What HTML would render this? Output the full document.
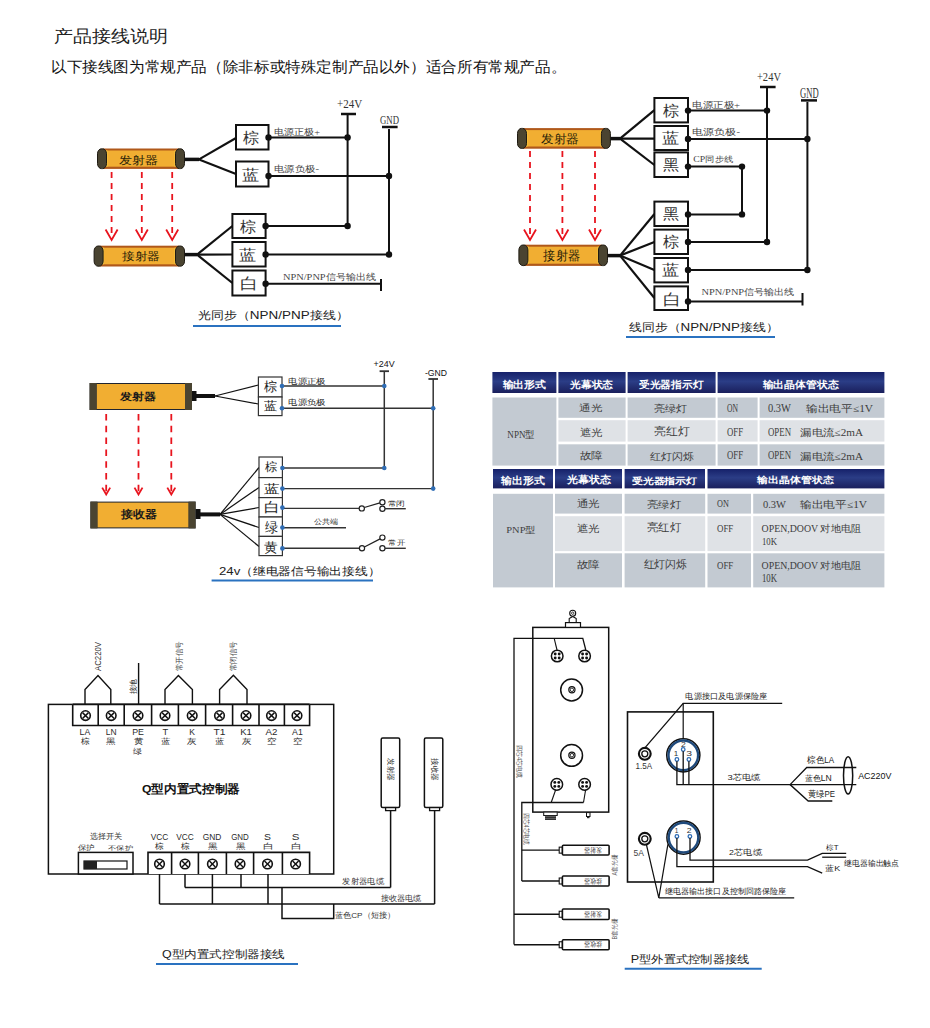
<!DOCTYPE html><html><head><meta charset="utf-8"><style>html,body{margin:0;padding:0;background:#fff}svg{display:block}</style></head><body><svg width="930" height="1028" viewBox="0 0 930 1028"><text id="t0" x="53.97" y="41.78" font-family="Liberation Sans" font-weight="normal" fill="#222" font-size="17.20" textLength="114.06" lengthAdjust="spacingAndGlyphs">产品接线说明</text>
<text id="t1" x="50.98" y="72.49" font-family="Liberation Sans" font-weight="normal" fill="#111" font-size="15.05" textLength="515.25" lengthAdjust="spacingAndGlyphs">以下接线图为常规产品（除非标或特殊定制产品以外）适合所有常规产品。</text>
<rect x="103" y="148.5" width="76" height="20.400000000000006" fill="#b0581a" rx="0"/>
<rect x="103" y="150.5" width="76" height="16.19999999999999" fill="#f1ae32" rx="0"/>
<rect x="105.5" y="150.5" width="2.0" height="16.19999999999999" fill="#f7c63c" rx="0"/>
<rect x="174.5" y="150.5" width="2.0" height="16.19999999999999" fill="#f7c63c" rx="0"/>
<rect x="97.5" y="148.8" width="9" height="19.799999999999983" rx="4" ry="5" fill="#4a4431" stroke="#1e1a12" stroke-width="1"/>
<rect x="175.5" y="148.8" width="9" height="19.799999999999983" rx="4" ry="5" fill="#4a4431" stroke="#1e1a12" stroke-width="1"/>
<text id="t2" x="118.97" y="164.00" font-family="Liberation Serif" font-weight="normal" fill="#2a1e08" font-size="10.84" textLength="39.08" lengthAdjust="spacingAndGlyphs">发射器</text>
<line x1="185" y1="159.4" x2="199" y2="159.4" stroke="#111" stroke-width="3.5" />
<line x1="199" y1="159.4" x2="236" y2="138" stroke="#111" stroke-width="2.2" />
<line x1="199" y1="159.4" x2="236" y2="174" stroke="#111" stroke-width="2.2" />
<rect x="236" y="125" width="32.5" height="24.5" fill="#fff" stroke="#111" stroke-width="2" rx="0"/>
<rect x="236" y="161.5" width="32.5" height="25.0" fill="#fff" stroke="#111" stroke-width="2" rx="0"/>
<text id="t3" x="243.00" y="143.49" font-family="Liberation Serif" font-weight="normal" fill="#333" font-size="15.05" textLength="16.07" lengthAdjust="spacingAndGlyphs">棕</text>
<text id="t4" x="241.85" y="179.99" font-family="Liberation Serif" font-weight="normal" fill="#333" font-size="15.05" textLength="17.31" lengthAdjust="spacingAndGlyphs">蓝</text>
<line x1="268.5" y1="137.5" x2="347.6" y2="137.5" stroke="#111" stroke-width="2" />
<line x1="268.5" y1="176" x2="389" y2="176" stroke="#111" stroke-width="2" />
<line x1="347.6" y1="114" x2="347.6" y2="226" stroke="#111" stroke-width="2" />
<line x1="341" y1="114" x2="356" y2="114" stroke="#111" stroke-width="2.5" />
<line x1="389" y1="129" x2="389" y2="254.5" stroke="#111" stroke-width="2" />
<line x1="382" y1="127" x2="397.6" y2="127" stroke="#111" stroke-width="2.5" />
<text id="t5" x="336.95" y="108.00" font-family="Liberation Serif" font-weight="normal" fill="#333" font-size="12.70" textLength="25.17" lengthAdjust="spacingAndGlyphs">+24V</text>
<text id="t6" x="380.00" y="124.00" font-family="Liberation Serif" font-weight="normal" fill="#333" font-size="12.70" textLength="19.00" lengthAdjust="spacingAndGlyphs">GND</text>
<text id="t7" x="273.95" y="134.51" font-family="Liberation Serif" font-weight="normal" fill="#444" font-size="9.27" textLength="46.10" lengthAdjust="spacingAndGlyphs">电源正极+</text>
<text id="t8" x="273.98" y="171.51" font-family="Liberation Serif" font-weight="normal" fill="#444" font-size="9.27" textLength="45.09" lengthAdjust="spacingAndGlyphs">电源负极-</text>
<line x1="111.6" y1="172" x2="111.6" y2="239" stroke="#e8141e" stroke-width="1.8" stroke-dasharray="6,5"/>
<polyline points="105.6,229.5 111.6,240 117.6,229.5" fill="none" stroke="#e8141e" stroke-width="1.8" stroke-linejoin="miter"/>
<line x1="141.8" y1="172" x2="141.8" y2="239" stroke="#e8141e" stroke-width="1.8" stroke-dasharray="6,5"/>
<polyline points="135.8,229.5 141.8,240 147.8,229.5" fill="none" stroke="#e8141e" stroke-width="1.8" stroke-linejoin="miter"/>
<line x1="172.2" y1="172" x2="172.2" y2="239" stroke="#e8141e" stroke-width="1.8" stroke-dasharray="6,5"/>
<polyline points="166.2,229.5 172.2,240 178.2,229.5" fill="none" stroke="#e8141e" stroke-width="1.8" stroke-linejoin="miter"/>
<rect x="99.6" y="245.7" width="79.4" height="20.80000000000001" fill="#b0581a" rx="0"/>
<rect x="99.6" y="247.7" width="79.4" height="16.600000000000023" fill="#f1ae32" rx="0"/>
<rect x="102.1" y="247.7" width="2.0" height="16.600000000000023" fill="#f7c63c" rx="0"/>
<rect x="174.5" y="247.7" width="2.0" height="16.600000000000023" fill="#f7c63c" rx="0"/>
<rect x="94.1" y="246" width="9" height="20.19999999999999" rx="4" ry="5" fill="#4a4431" stroke="#1e1a12" stroke-width="1"/>
<rect x="175.5" y="246" width="9" height="20.19999999999999" rx="4" ry="5" fill="#4a4431" stroke="#1e1a12" stroke-width="1"/>
<text id="t9" x="121.94" y="259.93" font-family="Liberation Serif" font-weight="normal" fill="#2a1e08" font-size="11.42" textLength="38.12" lengthAdjust="spacingAndGlyphs">接射器</text>
<line x1="185" y1="254.6" x2="197" y2="254.6" stroke="#111" stroke-width="3.5" />
<line x1="197" y1="254.6" x2="232.4" y2="226" stroke="#111" stroke-width="2.2" />
<line x1="197" y1="254.6" x2="232.4" y2="254.5" stroke="#111" stroke-width="2.2" />
<line x1="197" y1="254.6" x2="232.4" y2="283" stroke="#111" stroke-width="2.2" />
<rect x="232.4" y="214" width="33.20000000000002" height="24" fill="#fff" stroke="#111" stroke-width="2" rx="0"/>
<rect x="232.4" y="242" width="33.20000000000002" height="24.5" fill="#fff" stroke="#111" stroke-width="2" rx="0"/>
<rect x="232.4" y="270.5" width="33.20000000000002" height="25.0" fill="#fff" stroke="#111" stroke-width="2" rx="0"/>
<text id="t10" x="240.00" y="231.99" font-family="Liberation Serif" font-weight="normal" fill="#333" font-size="15.05" textLength="16.07" lengthAdjust="spacingAndGlyphs">棕</text>
<text id="t11" x="238.85" y="259.99" font-family="Liberation Serif" font-weight="normal" fill="#333" font-size="15.05" textLength="17.31" lengthAdjust="spacingAndGlyphs">蓝</text>
<text id="t12" x="239.71" y="289.46" font-family="Liberation Serif" font-weight="normal" fill="#333" font-size="16.21" textLength="18.09" lengthAdjust="spacingAndGlyphs">白</text>
<line x1="265.6" y1="226" x2="347.6" y2="226" stroke="#111" stroke-width="2" />
<line x1="265.6" y1="254.5" x2="389" y2="254.5" stroke="#111" stroke-width="2" />
<line x1="265.6" y1="283.75" x2="381" y2="283.75" stroke="#111" stroke-width="2" />
<line x1="381" y1="279" x2="381" y2="291" stroke="#111" stroke-width="2" />
<circle cx="268.5" cy="137.5" r="3.2" fill="#111"/>
<circle cx="268.5" cy="176" r="3.2" fill="#111"/>
<circle cx="347.6" cy="137.5" r="3.2" fill="#111"/>
<circle cx="389" cy="176" r="3.2" fill="#111"/>
<circle cx="265.6" cy="226" r="3.2" fill="#111"/>
<circle cx="265.6" cy="254.5" r="3.2" fill="#111"/>
<circle cx="265.6" cy="283.75" r="3.2" fill="#111"/>
<circle cx="347.6" cy="226" r="3.2" fill="#111"/>
<circle cx="389" cy="254.5" r="3.2" fill="#111"/>
<text id="t13" x="282.99" y="280.07" font-family="Liberation Serif" font-weight="normal" fill="#444" font-size="9.27" textLength="93.01" lengthAdjust="spacingAndGlyphs">NPN/PNP信号输出线</text>
<text id="t14" x="197.93" y="319.48" font-family="Liberation Sans" font-weight="normal" fill="#222" font-size="11.42" textLength="150.64" lengthAdjust="spacingAndGlyphs">光同步（NPN/PNP接线）</text>
<line x1="193" y1="326" x2="341" y2="326" stroke="#2a72c0" stroke-width="2" />
<rect x="523" y="128.1" width="81.89999999999998" height="20.600000000000023" fill="#b0581a" rx="0"/>
<rect x="523" y="130.1" width="81.89999999999998" height="16.400000000000006" fill="#f1ae32" rx="0"/>
<rect x="525.5" y="130.1" width="2.0" height="16.400000000000006" fill="#f7c63c" rx="0"/>
<rect x="600.4" y="130.1" width="2.0" height="16.400000000000006" fill="#f7c63c" rx="0"/>
<rect x="517.5" y="128.4" width="9" height="20.0" rx="4" ry="5" fill="#4a4431" stroke="#1e1a12" stroke-width="1"/>
<rect x="601.4" y="128.4" width="9" height="20.0" rx="4" ry="5" fill="#4a4431" stroke="#1e1a12" stroke-width="1"/>
<text id="t15" x="540.91" y="142.91" font-family="Liberation Serif" font-weight="normal" fill="#2a1e08" font-size="11.52" textLength="38.15" lengthAdjust="spacingAndGlyphs">发射器</text>
<line x1="610.4" y1="138.6" x2="620" y2="138.6" stroke="#111" stroke-width="3.5" />
<line x1="620" y1="138.6" x2="654.4" y2="110.2" stroke="#111" stroke-width="2.2" />
<line x1="620" y1="138.6" x2="654.4" y2="138.6" stroke="#111" stroke-width="2.2" />
<line x1="620" y1="138.6" x2="654.4" y2="165" stroke="#111" stroke-width="2.2" />
<rect x="654.4" y="98" width="33.60000000000002" height="24.400000000000006" fill="#fff" stroke="#111" stroke-width="2" rx="0"/>
<rect x="654.4" y="126" width="33.60000000000002" height="24" fill="#fff" stroke="#111" stroke-width="2" rx="0"/>
<rect x="654.4" y="152.4" width="33.60000000000002" height="24.599999999999994" fill="#fff" stroke="#111" stroke-width="2" rx="0"/>
<text id="t16" x="663.00" y="115.99" font-family="Liberation Serif" font-weight="normal" fill="#333" font-size="15.05" textLength="16.07" lengthAdjust="spacingAndGlyphs">棕</text>
<text id="t17" x="661.85" y="143.49" font-family="Liberation Serif" font-weight="normal" fill="#333" font-size="15.05" textLength="17.31" lengthAdjust="spacingAndGlyphs">蓝</text>
<text id="t18" x="663.00" y="170.49" font-family="Liberation Serif" font-weight="normal" fill="#333" font-size="15.05" textLength="16.07" lengthAdjust="spacingAndGlyphs">黑</text>
<line x1="688" y1="110.6" x2="767" y2="110.6" stroke="#111" stroke-width="2" />
<line x1="688" y1="139" x2="807.4" y2="139" stroke="#111" stroke-width="2" />
<line x1="688" y1="166.6" x2="742" y2="166.6" stroke="#111" stroke-width="2" />
<line x1="767" y1="87" x2="767" y2="242" stroke="#111" stroke-width="2" />
<line x1="760" y1="87" x2="775.6" y2="87" stroke="#111" stroke-width="2.5" />
<line x1="807.4" y1="102" x2="807.4" y2="270" stroke="#111" stroke-width="2" />
<line x1="801" y1="100.4" x2="817" y2="100.4" stroke="#111" stroke-width="2.5" />
<line x1="742" y1="166.6" x2="742" y2="214.4" stroke="#111" stroke-width="2" />
<text id="t19" x="756.95" y="81.34" font-family="Liberation Serif" font-weight="normal" fill="#333" font-size="12.70" textLength="24.05" lengthAdjust="spacingAndGlyphs">+24V</text>
<text id="t20" x="800.00" y="97.51" font-family="Liberation Serif" font-weight="normal" fill="#333" font-size="13.63" textLength="18.65" lengthAdjust="spacingAndGlyphs">GND</text>
<text id="t21" x="692.31" y="107.51" font-family="Liberation Serif" font-weight="normal" fill="#444" font-size="9.27" textLength="47.74" lengthAdjust="spacingAndGlyphs">电源正极+</text>
<text id="t22" x="692.32" y="135.14" font-family="Liberation Serif" font-weight="normal" fill="#444" font-size="8.60" textLength="47.69" lengthAdjust="spacingAndGlyphs">电源负极-</text>
<text id="t23" x="693.36" y="162.19" font-family="Liberation Serif" font-weight="normal" fill="#444" font-size="8.43" textLength="39.68" lengthAdjust="spacingAndGlyphs">CP同步线</text>
<line x1="530" y1="151" x2="530" y2="239" stroke="#e8141e" stroke-width="1.8" stroke-dasharray="6,5"/>
<polyline points="524,229.5 530,240 536,229.5" fill="none" stroke="#e8141e" stroke-width="1.8" stroke-linejoin="miter"/>
<line x1="562.4" y1="151" x2="562.4" y2="239" stroke="#e8141e" stroke-width="1.8" stroke-dasharray="6,5"/>
<polyline points="556.4,229.5 562.4,240 568.4,229.5" fill="none" stroke="#e8141e" stroke-width="1.8" stroke-linejoin="miter"/>
<line x1="595" y1="151" x2="595" y2="239" stroke="#e8141e" stroke-width="1.8" stroke-dasharray="6,5"/>
<polyline points="589,229.5 595,240 601,229.5" fill="none" stroke="#e8141e" stroke-width="1.8" stroke-linejoin="miter"/>
<rect x="524.4" y="244.7" width="77.60000000000002" height="21.200000000000045" fill="#b0581a" rx="0"/>
<rect x="524.4" y="246.7" width="77.60000000000002" height="17.000000000000057" fill="#f1ae32" rx="0"/>
<rect x="526.9" y="246.7" width="2.0" height="17.000000000000057" fill="#f7c63c" rx="0"/>
<rect x="597.5" y="246.7" width="2.0" height="17.000000000000057" fill="#f7c63c" rx="0"/>
<rect x="518.9" y="245" width="9" height="20.600000000000023" rx="4" ry="5" fill="#4a4431" stroke="#1e1a12" stroke-width="1"/>
<rect x="598.5" y="245" width="9" height="20.600000000000023" rx="4" ry="5" fill="#4a4431" stroke="#1e1a12" stroke-width="1"/>
<text id="t24" x="543.37" y="259.71" font-family="Liberation Serif" font-weight="normal" fill="#2a1e08" font-size="12.90" textLength="36.68" lengthAdjust="spacingAndGlyphs">接射器</text>
<line x1="608" y1="255.6" x2="620" y2="255.6" stroke="#111" stroke-width="3.5" />
<line x1="620" y1="255.6" x2="654.4" y2="214" stroke="#111" stroke-width="2.2" />
<line x1="620" y1="255.6" x2="654.4" y2="242" stroke="#111" stroke-width="2.2" />
<line x1="620" y1="255.6" x2="654.4" y2="270" stroke="#111" stroke-width="2.2" />
<line x1="620" y1="255.6" x2="654.4" y2="298" stroke="#111" stroke-width="2.2" />
<rect x="654.4" y="201.6" width="33.60000000000002" height="24.400000000000006" fill="#fff" stroke="#111" stroke-width="2" rx="0"/>
<rect x="654.4" y="229.6" width="33.60000000000002" height="24.400000000000006" fill="#fff" stroke="#111" stroke-width="2" rx="0"/>
<rect x="654.4" y="258" width="33.60000000000002" height="24.399999999999977" fill="#fff" stroke="#111" stroke-width="2" rx="0"/>
<rect x="654.4" y="286.4" width="33.60000000000002" height="23.600000000000023" fill="#fff" stroke="#111" stroke-width="2" rx="0"/>
<text id="t25" x="663.00" y="219.49" font-family="Liberation Serif" font-weight="normal" fill="#333" font-size="15.05" textLength="16.07" lengthAdjust="spacingAndGlyphs">黑</text>
<text id="t26" x="663.00" y="247.49" font-family="Liberation Serif" font-weight="normal" fill="#333" font-size="15.05" textLength="16.07" lengthAdjust="spacingAndGlyphs">棕</text>
<text id="t27" x="661.85" y="275.49" font-family="Liberation Serif" font-weight="normal" fill="#333" font-size="15.05" textLength="17.31" lengthAdjust="spacingAndGlyphs">蓝</text>
<text id="t28" x="662.71" y="304.92" font-family="Liberation Serif" font-weight="normal" fill="#333" font-size="16.21" textLength="18.09" lengthAdjust="spacingAndGlyphs">白</text>
<line x1="688" y1="214.4" x2="742" y2="214.4" stroke="#111" stroke-width="2" />
<line x1="688" y1="242" x2="767" y2="242" stroke="#111" stroke-width="2" />
<line x1="688" y1="270" x2="807.4" y2="270" stroke="#111" stroke-width="2" />
<line x1="688" y1="301.5" x2="802.5" y2="301.5" stroke="#111" stroke-width="2" />
<line x1="802.5" y1="293" x2="802.5" y2="305.5" stroke="#111" stroke-width="2" />
<circle cx="688" cy="110.6" r="3.2" fill="#111"/>
<circle cx="688" cy="139" r="3.2" fill="#111"/>
<circle cx="688" cy="166.6" r="3.2" fill="#111"/>
<circle cx="767" cy="110.6" r="3.2" fill="#111"/>
<circle cx="807.4" cy="139" r="3.2" fill="#111"/>
<circle cx="742" cy="166.6" r="3.2" fill="#111"/>
<circle cx="742" cy="214.4" r="3.2" fill="#111"/>
<circle cx="688" cy="214.4" r="3.2" fill="#111"/>
<circle cx="688" cy="242" r="3.2" fill="#111"/>
<circle cx="688" cy="270" r="3.2" fill="#111"/>
<circle cx="688" cy="301.5" r="3.2" fill="#111"/>
<circle cx="767" cy="242" r="3.2" fill="#111"/>
<circle cx="807.4" cy="270" r="3.2" fill="#111"/>
<text id="t29" x="701.49" y="295.07" font-family="Liberation Serif" font-weight="normal" fill="#444" font-size="9.27" textLength="93.01" lengthAdjust="spacingAndGlyphs">NPN/PNP信号输出线</text>
<text id="t30" x="629.00" y="330.93" font-family="Liberation Sans" font-weight="normal" fill="#222" font-size="11.42" textLength="149.50" lengthAdjust="spacingAndGlyphs">线同步（NPN/PNP接线）</text>
<line x1="626" y1="337" x2="775" y2="337" stroke="#2a72c0" stroke-width="2" />
<rect x="89.6" y="383" width="102.4" height="27" fill="#1f2430" rx="0"/>
<rect x="96.6" y="384" width="88.4" height="25" fill="#f1ae32" rx="0"/>
<rect x="89.6" y="383" width="7.0" height="27" fill="#4a4431" rx="0"/>
<rect x="185" y="383" width="7" height="27" fill="#4a4431" rx="0"/>
<text id="t31" x="120.00" y="399.52" font-family="Liberation Sans" font-weight="bold" fill="#1a1a1a" font-size="10.36" textLength="36.06" lengthAdjust="spacingAndGlyphs">发射器</text>
<rect x="192" y="391" width="4.5" height="10" fill="#111" rx="0"/>
<line x1="196" y1="396" x2="215" y2="396" stroke="#111" stroke-width="4" />
<line x1="215" y1="396" x2="258.4" y2="385" stroke="#111" stroke-width="1.2" />
<line x1="215" y1="396" x2="258.4" y2="404" stroke="#111" stroke-width="1.2" />
<rect x="258.4" y="377" width="23.600000000000023" height="20" fill="#fff" stroke="#333" stroke-width="1.2" rx="0"/>
<rect x="258.4" y="397" width="23.600000000000023" height="18.600000000000023" fill="#fff" stroke="#333" stroke-width="1.2" rx="0"/>
<text id="t32" x="264.00" y="390.71" font-family="Liberation Sans" font-weight="normal" fill="#222" font-size="12.90" textLength="13.09" lengthAdjust="spacingAndGlyphs">棕</text>
<text id="t33" x="264.00" y="409.82" font-family="Liberation Sans" font-weight="normal" fill="#222" font-size="11.83" textLength="13.09" lengthAdjust="spacingAndGlyphs">蓝</text>
<line x1="282" y1="386" x2="384.3" y2="386" stroke="#333" stroke-width="1.4" />
<line x1="282" y1="408.3" x2="433.2" y2="408.3" stroke="#333" stroke-width="1.4" />
<line x1="384.3" y1="371" x2="384.3" y2="468" stroke="#333" stroke-width="1.5" />
<line x1="379.6" y1="371.2" x2="389" y2="371.2" stroke="#333" stroke-width="1.8" />
<line x1="433.2" y1="379" x2="433.2" y2="488.6" stroke="#333" stroke-width="1.5" />
<line x1="428.4" y1="379" x2="438" y2="379" stroke="#333" stroke-width="1.8" />
<text id="t34" x="373.62" y="366.94" font-family="Liberation Sans" font-weight="normal" fill="#111" font-size="8.99" textLength="21.02" lengthAdjust="spacingAndGlyphs">+24V</text>
<text id="t35" x="424.95" y="375.61" font-family="Liberation Sans" font-weight="normal" fill="#111" font-size="8.60" textLength="22.05" lengthAdjust="spacingAndGlyphs">-GND</text>
<text id="t36" x="288.26" y="383.54" font-family="Liberation Sans" font-weight="normal" fill="#222" font-size="8.21" textLength="37.42" lengthAdjust="spacingAndGlyphs">电源正极</text>
<text id="t37" x="288.26" y="404.54" font-family="Liberation Sans" font-weight="normal" fill="#222" font-size="8.21" textLength="37.42" lengthAdjust="spacingAndGlyphs">电源负极</text>
<line x1="106.2" y1="414" x2="106.2" y2="493.4" stroke="#e8141e" stroke-width="1.8" stroke-dasharray="6.5,5.3"/>
<polyline points="102.2,487.59999999999997 106.2,494.4 110.2,487.59999999999997" fill="none" stroke="#e8141e" stroke-width="1.8" stroke-linejoin="miter"/>
<line x1="138.5" y1="414" x2="138.5" y2="493.4" stroke="#e8141e" stroke-width="1.8" stroke-dasharray="6.5,5.3"/>
<polyline points="134.5,487.59999999999997 138.5,494.4 142.5,487.59999999999997" fill="none" stroke="#e8141e" stroke-width="1.8" stroke-linejoin="miter"/>
<line x1="171.3" y1="414" x2="171.3" y2="493.4" stroke="#e8141e" stroke-width="1.8" stroke-dasharray="6.5,5.3"/>
<polyline points="167.3,487.59999999999997 171.3,494.4 175.3,487.59999999999997" fill="none" stroke="#e8141e" stroke-width="1.8" stroke-linejoin="miter"/>
<rect x="90.4" y="501.6" width="105.19999999999999" height="26.799999999999955" fill="#1f2430" rx="0"/>
<rect x="97.4" y="502.6" width="91.19999999999999" height="24.799999999999955" fill="#f1ae32" rx="0"/>
<rect x="90.4" y="501.6" width="7.0" height="26.799999999999955" fill="#4a4431" rx="0"/>
<rect x="188.6" y="501.6" width="7.0" height="26.799999999999955" fill="#4a4431" rx="0"/>
<text id="t38" x="121.00" y="518.00" font-family="Liberation Sans" font-weight="bold" fill="#1a1a1a" font-size="10.84" textLength="36.03" lengthAdjust="spacingAndGlyphs">接收器</text>
<rect x="195.6" y="509" width="4.900000000000006" height="10" fill="#111" rx="0"/>
<line x1="200" y1="514.4" x2="220" y2="514.4" stroke="#111" stroke-width="4" />
<line x1="220" y1="514.4" x2="259" y2="467.5" stroke="#111" stroke-width="1.2" />
<line x1="220" y1="514.4" x2="259" y2="487.5" stroke="#111" stroke-width="1.2" />
<line x1="220" y1="514.4" x2="259" y2="507.5" stroke="#111" stroke-width="1.2" />
<line x1="220" y1="514.4" x2="259" y2="527.5" stroke="#111" stroke-width="1.2" />
<line x1="220" y1="514.4" x2="259" y2="546.5" stroke="#111" stroke-width="1.2" />
<rect x="259" y="457" width="23.399999999999977" height="20.600000000000023" fill="#fff" stroke="#333" stroke-width="1.2" rx="0"/>
<rect x="259" y="477.6" width="23.399999999999977" height="20.0" fill="#fff" stroke="#333" stroke-width="1.2" rx="0"/>
<rect x="259" y="497.6" width="23.399999999999977" height="19.399999999999977" fill="#fff" stroke="#333" stroke-width="1.2" rx="0"/>
<rect x="259" y="517" width="23.399999999999977" height="19.399999999999977" fill="#fff" stroke="#333" stroke-width="1.2" rx="0"/>
<rect x="259" y="536.4" width="23.399999999999977" height="19.200000000000045" fill="#fff" stroke="#333" stroke-width="1.2" rx="0"/>
<text id="t39" x="264.92" y="470.92" font-family="Liberation Sans" font-weight="normal" fill="#222" font-size="12.46" textLength="12.24" lengthAdjust="spacingAndGlyphs">棕</text>
<text id="t40" x="264.20" y="493.10" font-family="Liberation Sans" font-weight="normal" fill="#222" font-size="12.46" textLength="15.52" lengthAdjust="spacingAndGlyphs">蓝</text>
<text id="t41" x="263.69" y="512.14" font-family="Liberation Sans" font-weight="normal" fill="#222" font-size="13.71" textLength="15.71" lengthAdjust="spacingAndGlyphs">白</text>
<text id="t42" x="265.00" y="531.90" font-family="Liberation Sans" font-weight="normal" fill="#222" font-size="14.13" textLength="13.09" lengthAdjust="spacingAndGlyphs">绿</text>
<text id="t43" x="263.70" y="551.77" font-family="Liberation Sans" font-weight="normal" fill="#222" font-size="12.95" textLength="13.67" lengthAdjust="spacingAndGlyphs">黄</text>
<line x1="282.4" y1="468" x2="384.3" y2="468" stroke="#333" stroke-width="1.4" />
<line x1="282.4" y1="488.6" x2="433.2" y2="488.6" stroke="#333" stroke-width="1.4" />
<line x1="282.4" y1="508.4" x2="359.2" y2="508.4" stroke="#333" stroke-width="1.4" />
<line x1="282.4" y1="527.8" x2="346" y2="527.8" stroke="#333" stroke-width="1.4" />
<line x1="282.4" y1="548.3" x2="359.4" y2="548.3" stroke="#333" stroke-width="1.4" />
<circle cx="361.8" cy="508.4" r="2.6" fill="#fff" stroke="#222" stroke-width="1.2"/>
<circle cx="382.4" cy="502.2" r="2.6" fill="#fff" stroke="#222" stroke-width="1.2"/>
<circle cx="382.4" cy="508.7" r="2.6" fill="#fff" stroke="#222" stroke-width="1.2"/>
<circle cx="362" cy="548.3" r="2.6" fill="#fff" stroke="#222" stroke-width="1.2"/>
<circle cx="382.4" cy="537.6" r="2.6" fill="#fff" stroke="#222" stroke-width="1.2"/>
<circle cx="382.4" cy="548.3" r="2.6" fill="#fff" stroke="#222" stroke-width="1.2"/>
<line x1="364.3" y1="507.5" x2="379.9" y2="502.9" stroke="#222" stroke-width="1.3" />
<line x1="364.4" y1="547" x2="380.1" y2="538.9" stroke="#222" stroke-width="1.3" />
<line x1="385" y1="508.7" x2="405.8" y2="508.7" stroke="#333" stroke-width="1.4" />
<line x1="385" y1="548.3" x2="405.8" y2="548.3" stroke="#333" stroke-width="1.4" />
<text id="t44" x="387.67" y="505.63" font-family="Liberation Sans" font-weight="normal" fill="#1e1e1e" font-size="7.16" textLength="17.41" lengthAdjust="spacingAndGlyphs">常闭</text>
<text id="t45" x="388.32" y="545.27" font-family="Liberation Sans" font-weight="normal" fill="#1e1e1e" font-size="7.26" textLength="16.63" lengthAdjust="spacingAndGlyphs">常开</text>
<text id="t46" x="313.85" y="524.34" font-family="Liberation Sans" font-weight="normal" fill="#1e1e1e" font-size="6.64" textLength="24.42" lengthAdjust="spacingAndGlyphs">公共端</text>
<circle cx="282" cy="386" r="2.3" fill="#2f6db5"/>
<circle cx="282" cy="408.3" r="2.3" fill="#2f6db5"/>
<circle cx="384.3" cy="386" r="2.3" fill="#2f6db5"/>
<circle cx="433.2" cy="408.3" r="2.3" fill="#2f6db5"/>
<circle cx="282.4" cy="468" r="2.3" fill="#2f6db5"/>
<circle cx="282.4" cy="488.6" r="2.3" fill="#2f6db5"/>
<circle cx="282.4" cy="507.6" r="2.3" fill="#2f6db5"/>
<circle cx="282.4" cy="527.6" r="2.3" fill="#2f6db5"/>
<circle cx="282.4" cy="548.4" r="2.3" fill="#2f6db5"/>
<circle cx="384.3" cy="468" r="2.3" fill="#2f6db5"/>
<circle cx="433.2" cy="488.6" r="2.3" fill="#2f6db5"/>
<text id="t47" x="218.94" y="575.48" font-family="Liberation Sans" font-weight="normal" fill="#222" font-size="11.42" textLength="161.51" lengthAdjust="spacingAndGlyphs">24v（继电器信号输出接线）</text>
<line x1="211.6" y1="580.6" x2="373" y2="580.6" stroke="#2a72c0" stroke-width="2" />
<defs><linearGradient id="hg" x1="0" y1="0" x2="0" y2="1"><stop offset="0" stop-color="#16216a"/><stop offset="0.45" stop-color="#2b3d86"/><stop offset="1" stop-color="#1a1f5c"/></linearGradient></defs>
<rect x="492.4" y="372" width="64.0" height="21" fill="url(#hg)" rx="0"/>
<rect x="558.4" y="372" width="67.20000000000005" height="21" fill="url(#hg)" rx="0"/>
<rect x="627.6" y="372" width="88.0" height="21" fill="url(#hg)" rx="0"/>
<rect x="717.6" y="372" width="166.79999999999995" height="21" fill="url(#hg)" rx="0"/>
<rect x="558.4" y="397.5" width="67.20000000000005" height="20.30000000000001" fill="#c3cad2" rx="0"/>
<rect x="627.6" y="397.5" width="88.0" height="20.30000000000001" fill="#c3cad2" rx="0"/>
<rect x="717.6" y="397.5" width="40.0" height="20.30000000000001" fill="#c3cad2" rx="0"/>
<rect x="759.6" y="397.5" width="124.79999999999995" height="20.30000000000001" fill="#c3cad2" rx="0"/>
<rect x="558.4" y="420.2" width="67.20000000000005" height="21.400000000000034" fill="#dfe2e6" rx="0"/>
<rect x="627.6" y="420.2" width="88.0" height="21.400000000000034" fill="#dfe2e6" rx="0"/>
<rect x="717.6" y="420.2" width="40.0" height="21.400000000000034" fill="#dfe2e6" rx="0"/>
<rect x="759.6" y="420.2" width="124.79999999999995" height="21.400000000000034" fill="#dfe2e6" rx="0"/>
<rect x="558.4" y="444.3" width="67.20000000000005" height="21.30000000000001" fill="#c3cad2" rx="0"/>
<rect x="627.6" y="444.3" width="88.0" height="21.30000000000001" fill="#c3cad2" rx="0"/>
<rect x="717.6" y="444.3" width="40.0" height="21.30000000000001" fill="#c3cad2" rx="0"/>
<rect x="759.6" y="444.3" width="124.79999999999995" height="21.30000000000001" fill="#c3cad2" rx="0"/>
<rect x="492.4" y="397.5" width="64.0" height="68.10000000000002" fill="#c3cad2" rx="0"/>
<text id="t48" x="502.58" y="387.75" font-family="Liberation Serif" font-weight="bold" fill="#fff" font-size="10.07" textLength="43.42" lengthAdjust="spacingAndGlyphs">输出形式</text>
<text id="t49" x="570.00" y="387.68" font-family="Liberation Serif" font-weight="bold" fill="#fff" font-size="9.78" textLength="43.00" lengthAdjust="spacingAndGlyphs">光幕状态</text>
<text id="t50" x="639.00" y="387.68" font-family="Liberation Serif" font-weight="bold" fill="#fff" font-size="9.78" textLength="64.41" lengthAdjust="spacingAndGlyphs">受光器指示灯</text>
<text id="t51" x="762.58" y="387.68" font-family="Liberation Serif" font-weight="bold" fill="#fff" font-size="9.78" textLength="76.03" lengthAdjust="spacingAndGlyphs">输出晶体管状态</text>
<text id="t52" x="507.36" y="438.03" font-family="Liberation Serif" font-weight="normal" fill="#3c3c3c" font-size="9.68" textLength="27.43" lengthAdjust="spacingAndGlyphs">NPN型</text>
<text id="t53" x="578.89" y="411.34" font-family="Liberation Serif" font-weight="normal" fill="#3c3c3c" font-size="8.89" textLength="23.26" lengthAdjust="spacingAndGlyphs">通光</text>
<text id="t54" x="579.90" y="436.03" font-family="Liberation Serif" font-weight="normal" fill="#3c3c3c" font-size="9.68" textLength="23.15" lengthAdjust="spacingAndGlyphs">遮光</text>
<text id="t55" x="579.90" y="459.03" font-family="Liberation Serif" font-weight="normal" fill="#3c3c3c" font-size="9.68" textLength="23.15" lengthAdjust="spacingAndGlyphs">故障</text>
<text id="t56" x="653.96" y="412.32" font-family="Liberation Serif" font-weight="normal" fill="#3c3c3c" font-size="9.77" textLength="33.23" lengthAdjust="spacingAndGlyphs">亮绿灯</text>
<text id="t57" x="653.89" y="435.44" font-family="Liberation Serif" font-weight="normal" fill="#3c3c3c" font-size="10.91" textLength="35.45" lengthAdjust="spacingAndGlyphs">亮红灯</text>
<text id="t58" x="650.00" y="459.62" font-family="Liberation Serif" font-weight="normal" fill="#3c3c3c" font-size="10.43" textLength="44.02" lengthAdjust="spacingAndGlyphs">红灯闪烁</text>
<text id="t59" x="727.00" y="412.00" font-family="Liberation Serif" font-weight="normal" fill="#3c3c3c" font-size="12.12" textLength="11.00" lengthAdjust="spacingAndGlyphs">ON</text>
<text id="t60" x="727.00" y="436.29" font-family="Liberation Serif" font-weight="normal" fill="#3c3c3c" font-size="11.95" textLength="16.00" lengthAdjust="spacingAndGlyphs">OFF</text>
<text id="t61" x="727.00" y="459.47" font-family="Liberation Serif" font-weight="normal" fill="#3c3c3c" font-size="11.76" textLength="16.00" lengthAdjust="spacingAndGlyphs">OFF</text>
<text id="t62" x="768.00" y="412.00" font-family="Liberation Serif" font-weight="normal" fill="#3c3c3c" font-size="12.12" textLength="23.00" lengthAdjust="spacingAndGlyphs">0.3W</text>
<text id="t63" x="805.97" y="412.03" font-family="Liberation Serif" font-weight="normal" fill="#3c3c3c" font-size="9.68" textLength="67.06" lengthAdjust="spacingAndGlyphs">输出电平≤1V</text>
<text id="t64" x="768.00" y="435.71" font-family="Liberation Serif" font-weight="normal" fill="#3c3c3c" font-size="11.95" textLength="23.00" lengthAdjust="spacingAndGlyphs">OPEN</text>
<text id="t65" x="799.97" y="436.03" font-family="Liberation Serif" font-weight="normal" fill="#3c3c3c" font-size="9.68" textLength="63.10" lengthAdjust="spacingAndGlyphs">漏电流≤2mA</text>
<text id="t66" x="768.00" y="459.31" font-family="Liberation Serif" font-weight="normal" fill="#3c3c3c" font-size="11.95" textLength="23.00" lengthAdjust="spacingAndGlyphs">OPEN</text>
<text id="t67" x="799.97" y="459.53" font-family="Liberation Serif" font-weight="normal" fill="#3c3c3c" font-size="9.68" textLength="63.10" lengthAdjust="spacingAndGlyphs">漏电流≤2mA</text>
<rect x="493" y="469" width="60" height="19.399999999999977" fill="url(#hg)" rx="0"/>
<rect x="555" y="469" width="67" height="19.399999999999977" fill="url(#hg)" rx="0"/>
<rect x="624.6" y="469" width="80.39999999999998" height="19.399999999999977" fill="url(#hg)" rx="0"/>
<rect x="707.5" y="469" width="176.89999999999998" height="19.399999999999977" fill="url(#hg)" rx="0"/>
<rect x="555" y="493.8" width="67" height="19.80000000000001" fill="#c3cad2" rx="0"/>
<rect x="624.6" y="493.8" width="80.60000000000002" height="19.80000000000001" fill="#c3cad2" rx="0"/>
<rect x="707.5" y="493.8" width="43.5" height="19.80000000000001" fill="#c3cad2" rx="0"/>
<rect x="753.2" y="493.8" width="131.19999999999993" height="19.80000000000001" fill="#c3cad2" rx="0"/>
<rect x="555" y="516.2" width="67" height="34.89999999999998" fill="#dfe2e6" rx="0"/>
<rect x="624.6" y="516.2" width="80.60000000000002" height="34.89999999999998" fill="#dfe2e6" rx="0"/>
<rect x="707.5" y="516.2" width="43.5" height="34.89999999999998" fill="#dfe2e6" rx="0"/>
<rect x="753.2" y="516.2" width="131.19999999999993" height="34.89999999999998" fill="#dfe2e6" rx="0"/>
<rect x="555" y="553.3" width="67" height="34.10000000000002" fill="#c3cad2" rx="0"/>
<rect x="624.6" y="553.3" width="80.60000000000002" height="34.10000000000002" fill="#c3cad2" rx="0"/>
<rect x="707.5" y="553.3" width="43.5" height="34.10000000000002" fill="#c3cad2" rx="0"/>
<rect x="753.2" y="553.3" width="131.19999999999993" height="34.10000000000002" fill="#c3cad2" rx="0"/>
<rect x="493" y="493.8" width="60" height="93.59999999999997" fill="#c3cad2" rx="0"/>
<text id="t68" x="501.00" y="483.86" font-family="Liberation Serif" font-weight="bold" fill="#fff" font-size="9.70" textLength="43.62" lengthAdjust="spacingAndGlyphs">输出形式</text>
<text id="t69" x="567.00" y="482.82" font-family="Liberation Serif" font-weight="bold" fill="#fff" font-size="9.92" textLength="44.00" lengthAdjust="spacingAndGlyphs">光幕状态</text>
<text id="t70" x="631.68" y="483.85" font-family="Liberation Serif" font-weight="bold" fill="#fff" font-size="9.49" textLength="65.58" lengthAdjust="spacingAndGlyphs">受光器指示灯</text>
<text id="t71" x="757.39" y="482.84" font-family="Liberation Serif" font-weight="bold" fill="#fff" font-size="9.39" textLength="76.01" lengthAdjust="spacingAndGlyphs">输出晶体管状态</text>
<text id="t72" x="506.32" y="533.46" font-family="Liberation Serif" font-weight="normal" fill="#3c3c3c" font-size="9.15" textLength="29.45" lengthAdjust="spacingAndGlyphs">PNP型</text>
<text id="t73" x="576.90" y="507.43" font-family="Liberation Serif" font-weight="normal" fill="#3c3c3c" font-size="9.68" textLength="23.15" lengthAdjust="spacingAndGlyphs">通光</text>
<text id="t74" x="576.90" y="532.03" font-family="Liberation Serif" font-weight="normal" fill="#3c3c3c" font-size="9.68" textLength="23.15" lengthAdjust="spacingAndGlyphs">遮光</text>
<text id="t75" x="576.90" y="568.03" font-family="Liberation Serif" font-weight="normal" fill="#3c3c3c" font-size="9.68" textLength="23.15" lengthAdjust="spacingAndGlyphs">故障</text>
<text id="t76" x="647.17" y="508.01" font-family="Liberation Serif" font-weight="normal" fill="#3c3c3c" font-size="10.43" textLength="33.95" lengthAdjust="spacingAndGlyphs">亮绿灯</text>
<text id="t77" x="647.16" y="531.29" font-family="Liberation Serif" font-weight="normal" fill="#3c3c3c" font-size="10.86" textLength="33.98" lengthAdjust="spacingAndGlyphs">亮红灯</text>
<text id="t78" x="643.59" y="568.41" font-family="Liberation Serif" font-weight="normal" fill="#3c3c3c" font-size="11.07" textLength="43.43" lengthAdjust="spacingAndGlyphs">红灯闪烁</text>
<text id="t79" x="717.00" y="507.48" font-family="Liberation Serif" font-weight="normal" fill="#3c3c3c" font-size="10.19" textLength="11.86" lengthAdjust="spacingAndGlyphs">ON</text>
<text id="t80" x="717.00" y="531.68" font-family="Liberation Serif" font-weight="normal" fill="#3c3c3c" font-size="10.74" textLength="16.26" lengthAdjust="spacingAndGlyphs">OFF</text>
<text id="t81" x="717.00" y="568.68" font-family="Liberation Serif" font-weight="normal" fill="#3c3c3c" font-size="10.74" textLength="16.26" lengthAdjust="spacingAndGlyphs">OFF</text>
<text id="t82" x="763.00" y="508.00" font-family="Liberation Serif" font-weight="normal" fill="#3c3c3c" font-size="10.86" textLength="23.00" lengthAdjust="spacingAndGlyphs">0.3W</text>
<text id="t83" x="799.97" y="508.03" font-family="Liberation Serif" font-weight="normal" fill="#3c3c3c" font-size="9.68" textLength="67.06" lengthAdjust="spacingAndGlyphs">输出电平≤1V</text>
<text id="t84" x="761.58" y="532.03" font-family="Liberation Serif" font-weight="normal" fill="#3c3c3c" font-size="9.68" textLength="99.44" lengthAdjust="spacingAndGlyphs">OPEN,DOOV 对地电阻</text>
<text id="t85" x="761.92" y="544.52" font-family="Liberation Serif" font-weight="normal" fill="#3c3c3c" font-size="10.74" textLength="15.08" lengthAdjust="spacingAndGlyphs">10K</text>
<text id="t86" x="761.58" y="569.03" font-family="Liberation Serif" font-weight="normal" fill="#3c3c3c" font-size="9.68" textLength="99.44" lengthAdjust="spacingAndGlyphs">OPEN,DOOV 对地电阻</text>
<text id="t87" x="761.92" y="582.00" font-family="Liberation Serif" font-weight="normal" fill="#3c3c3c" font-size="12.70" textLength="15.08" lengthAdjust="spacingAndGlyphs">10K</text>
<rect x="48.4" y="704.4" width="285.3" height="169.60000000000002" fill="none" stroke="#111" stroke-width="1.5" rx="0"/>
<rect x="72.7" y="704.4" width="236.90000000000003" height="21.100000000000023" fill="#fff" rx="0"/>
<polyline points="72.7,704.4 72.7,725.5 309.6,725.5 309.6,704.4" fill="none" stroke="#111" stroke-width="1.6" stroke-linejoin="miter"/>
<line x1="72.7" y1="704.4" x2="309.6" y2="704.4" stroke="#111" stroke-width="1.6" />
<line x1="98.2" y1="704.4" x2="98.2" y2="725.5" stroke="#111" stroke-width="1.6" />
<line x1="124.2" y1="704.4" x2="124.2" y2="725.5" stroke="#111" stroke-width="1.6" />
<line x1="151.6" y1="704.4" x2="151.6" y2="725.5" stroke="#111" stroke-width="1.6" />
<line x1="178.4" y1="704.4" x2="178.4" y2="725.5" stroke="#111" stroke-width="1.6" />
<line x1="205.6" y1="704.4" x2="205.6" y2="725.5" stroke="#111" stroke-width="1.6" />
<line x1="232.6" y1="704.4" x2="232.6" y2="725.5" stroke="#111" stroke-width="1.6" />
<line x1="259" y1="704.4" x2="259" y2="725.5" stroke="#111" stroke-width="1.6" />
<line x1="284.4" y1="704.4" x2="284.4" y2="725.5" stroke="#111" stroke-width="1.6" />
<circle cx="85.5" cy="715.6" r="4.8" fill="none" stroke="#111" stroke-width="1.6"/>
<line x1="82.524" y1="712.624" x2="88.476" y2="718.576" stroke="#111" stroke-width="1.4400000000000002" />
<line x1="82.524" y1="718.576" x2="88.476" y2="712.624" stroke="#111" stroke-width="1.4400000000000002" />
<circle cx="111.2" cy="715.6" r="4.8" fill="none" stroke="#111" stroke-width="1.6"/>
<line x1="108.224" y1="712.624" x2="114.176" y2="718.576" stroke="#111" stroke-width="1.4400000000000002" />
<line x1="108.224" y1="718.576" x2="114.176" y2="712.624" stroke="#111" stroke-width="1.4400000000000002" />
<circle cx="138" cy="715.6" r="4.8" fill="none" stroke="#111" stroke-width="1.6"/>
<line x1="135.024" y1="712.624" x2="140.976" y2="718.576" stroke="#111" stroke-width="1.4400000000000002" />
<line x1="135.024" y1="718.576" x2="140.976" y2="712.624" stroke="#111" stroke-width="1.4400000000000002" />
<circle cx="165" cy="715.6" r="4.8" fill="none" stroke="#111" stroke-width="1.6"/>
<line x1="162.024" y1="712.624" x2="167.976" y2="718.576" stroke="#111" stroke-width="1.4400000000000002" />
<line x1="162.024" y1="718.576" x2="167.976" y2="712.624" stroke="#111" stroke-width="1.4400000000000002" />
<circle cx="192.2" cy="715.6" r="4.8" fill="none" stroke="#111" stroke-width="1.6"/>
<line x1="189.224" y1="712.624" x2="195.176" y2="718.576" stroke="#111" stroke-width="1.4400000000000002" />
<line x1="189.224" y1="718.576" x2="195.176" y2="712.624" stroke="#111" stroke-width="1.4400000000000002" />
<circle cx="219.5" cy="715.6" r="4.8" fill="none" stroke="#111" stroke-width="1.6"/>
<line x1="216.524" y1="712.624" x2="222.476" y2="718.576" stroke="#111" stroke-width="1.4400000000000002" />
<line x1="216.524" y1="718.576" x2="222.476" y2="712.624" stroke="#111" stroke-width="1.4400000000000002" />
<circle cx="246" cy="715.6" r="4.8" fill="none" stroke="#111" stroke-width="1.6"/>
<line x1="243.024" y1="712.624" x2="248.976" y2="718.576" stroke="#111" stroke-width="1.4400000000000002" />
<line x1="243.024" y1="718.576" x2="248.976" y2="712.624" stroke="#111" stroke-width="1.4400000000000002" />
<circle cx="271.5" cy="715.6" r="4.8" fill="none" stroke="#111" stroke-width="1.6"/>
<line x1="268.524" y1="712.624" x2="274.476" y2="718.576" stroke="#111" stroke-width="1.4400000000000002" />
<line x1="268.524" y1="718.576" x2="274.476" y2="712.624" stroke="#111" stroke-width="1.4400000000000002" />
<circle cx="297" cy="715.6" r="4.8" fill="none" stroke="#111" stroke-width="1.6"/>
<line x1="294.024" y1="712.624" x2="299.976" y2="718.576" stroke="#111" stroke-width="1.4400000000000002" />
<line x1="294.024" y1="718.576" x2="299.976" y2="712.624" stroke="#111" stroke-width="1.4400000000000002" />
<polyline points="85,704.4 85,689.6 98,675.6 110.8,689.6 110.8,704.4" fill="none" stroke="#111" stroke-width="1.4" stroke-linejoin="miter"/>
<line x1="138.6" y1="663" x2="138.6" y2="704.4" stroke="#111" stroke-width="1.4" />
<polyline points="165,704.4 165,689.6 178.4,675.6 192.4,689.6 192.4,704.4" fill="none" stroke="#111" stroke-width="1.4" stroke-linejoin="miter"/>
<polyline points="219.6,704.4 219.6,689.6 233.4,675.2 247,689.6 247,704.4" fill="none" stroke="#111" stroke-width="1.4" stroke-linejoin="miter"/>
<text x="0" y="0" transform="translate(98.2,656.5) rotate(-90)" text-anchor="middle" dominant-baseline="central" font-family="Liberation Sans" font-size="8.5" font-weight="normal" fill="#333" textLength="29" lengthAdjust="spacingAndGlyphs">AC220V</text>
<text x="0" y="0" transform="translate(133,686.7) rotate(-90)" text-anchor="middle" dominant-baseline="central" font-family="Liberation Sans" font-size="7.5" font-weight="normal" fill="#333" textLength="15.4" lengthAdjust="spacingAndGlyphs">接地</text>
<text x="0" y="0" transform="translate(179.6,656) rotate(-90)" text-anchor="middle" dominant-baseline="central" font-family="Liberation Sans" font-size="7.6" font-weight="normal" fill="#444" textLength="30" lengthAdjust="spacingAndGlyphs">常开信号</text>
<text x="0" y="0" transform="translate(233.2,656) rotate(-90)" text-anchor="middle" dominant-baseline="central" font-family="Liberation Sans" font-size="7.6" font-weight="normal" fill="#444" textLength="30" lengthAdjust="spacingAndGlyphs">常闭信号</text>
<text id="t88" x="79.62" y="735.00" font-family="Liberation Sans" font-weight="normal" fill="#2a2a2a" font-size="8.33" textLength="10.69" lengthAdjust="spacingAndGlyphs">LA</text>
<text id="t89" x="81.23" y="744.25" font-family="Liberation Sans" font-weight="normal" fill="#2a2a2a" font-size="7.53" textLength="8.60" lengthAdjust="spacingAndGlyphs">棕</text>
<text id="t90" x="105.86" y="735.00" font-family="Liberation Sans" font-weight="normal" fill="#2a2a2a" font-size="8.33" textLength="10.80" lengthAdjust="spacingAndGlyphs">LN</text>
<text id="t91" x="106.44" y="743.68" font-family="Liberation Sans" font-weight="normal" fill="#2a2a2a" font-size="7.90" textLength="9.51" lengthAdjust="spacingAndGlyphs">黑</text>
<text id="t92" x="132.15" y="735.00" font-family="Liberation Sans" font-weight="normal" fill="#2a2a2a" font-size="8.33" textLength="11.76" lengthAdjust="spacingAndGlyphs">PE</text>
<text id="t93" x="133.60" y="744.25" font-family="Liberation Sans" font-weight="normal" fill="#2a2a2a" font-size="7.53" textLength="9.51" lengthAdjust="spacingAndGlyphs">黄</text>
<text id="t94" x="133.03" y="754.20" font-family="Liberation Sans" font-weight="normal" fill="#2a2a2a" font-size="8.01" textLength="9.02" lengthAdjust="spacingAndGlyphs">绿</text>
<text id="t95" x="162.45" y="735.00" font-family="Liberation Sans" font-weight="normal" fill="#2a2a2a" font-size="8.33" textLength="5.70" lengthAdjust="spacingAndGlyphs">T</text>
<text id="t96" x="160.64" y="744.25" font-family="Liberation Sans" font-weight="normal" fill="#2a2a2a" font-size="7.53" textLength="9.51" lengthAdjust="spacingAndGlyphs">蓝</text>
<text id="t97" x="189.28" y="735.00" font-family="Liberation Sans" font-weight="normal" fill="#2a2a2a" font-size="8.33" textLength="5.70" lengthAdjust="spacingAndGlyphs">K</text>
<text id="t98" x="187.44" y="744.25" font-family="Liberation Sans" font-weight="normal" fill="#2a2a2a" font-size="7.53" textLength="9.51" lengthAdjust="spacingAndGlyphs">灰</text>
<text id="t99" x="213.52" y="735.00" font-family="Liberation Sans" font-weight="normal" fill="#2a2a2a" font-size="8.33" textLength="12.00" lengthAdjust="spacingAndGlyphs">T1</text>
<text id="t100" x="214.91" y="744.25" font-family="Liberation Sans" font-weight="normal" fill="#2a2a2a" font-size="7.53" textLength="9.51" lengthAdjust="spacingAndGlyphs">蓝</text>
<text id="t101" x="240.15" y="735.00" font-family="Liberation Sans" font-weight="normal" fill="#2a2a2a" font-size="8.33" textLength="11.76" lengthAdjust="spacingAndGlyphs">K1</text>
<text id="t102" x="241.65" y="744.25" font-family="Liberation Sans" font-weight="normal" fill="#2a2a2a" font-size="7.53" textLength="9.51" lengthAdjust="spacingAndGlyphs">灰</text>
<text id="t103" x="265.60" y="735.00" font-family="Liberation Sans" font-weight="normal" fill="#2a2a2a" font-size="8.33" textLength="11.88" lengthAdjust="spacingAndGlyphs">A2</text>
<text id="t104" x="267.02" y="744.25" font-family="Liberation Sans" font-weight="normal" fill="#2a2a2a" font-size="7.53" textLength="9.51" lengthAdjust="spacingAndGlyphs">空</text>
<text id="t105" x="292.12" y="735.00" font-family="Liberation Sans" font-weight="normal" fill="#2a2a2a" font-size="8.33" textLength="10.69" lengthAdjust="spacingAndGlyphs">A1</text>
<text id="t106" x="292.65" y="744.25" font-family="Liberation Sans" font-weight="normal" fill="#2a2a2a" font-size="7.53" textLength="9.51" lengthAdjust="spacingAndGlyphs">空</text>
<text id="t107" x="141.99" y="792.61" font-family="Liberation Sans" font-weight="bold" fill="#111" font-size="11.58" textLength="98.01" lengthAdjust="spacingAndGlyphs">Q型内置式控制器</text>
<rect x="78.4" y="852.4" width="54.599999999999994" height="21.600000000000023" fill="#fff" stroke="#111" stroke-width="1.5" rx="0"/>
<rect x="84" y="861" width="43" height="8" fill="#fff" stroke="#111" stroke-width="1.2" rx="0"/>
<rect x="84" y="861" width="13" height="8" fill="#222" rx="0"/>
<text id="t108" x="89.96" y="838.54" font-family="Liberation Sans" font-weight="normal" fill="#333" font-size="8.21" textLength="32.69" lengthAdjust="spacingAndGlyphs">选择开关</text>
<text id="t109" x="77.93" y="849.97" font-family="Liberation Sans" font-weight="normal" fill="#333" font-size="6.91" textLength="17.07" lengthAdjust="spacingAndGlyphs">保护</text>
<text id="t110" x="107.96" y="849.93" font-family="Liberation Sans" font-weight="normal" fill="#333" font-size="6.30" textLength="25.04" lengthAdjust="spacingAndGlyphs">不保护</text>
<rect x="148" y="852.4" width="161.60000000000002" height="21.600000000000023" fill="#fff" rx="0"/>
<polyline points="148,874 148,852.4 309.6,852.4 309.6,874" fill="none" stroke="#111" stroke-width="1.6" stroke-linejoin="miter"/>
<line x1="171.6" y1="852.4" x2="171.6" y2="874" stroke="#111" stroke-width="1.6" />
<line x1="198.4" y1="852.4" x2="198.4" y2="874" stroke="#111" stroke-width="1.6" />
<line x1="226.4" y1="852.4" x2="226.4" y2="874" stroke="#111" stroke-width="1.6" />
<line x1="253.6" y1="852.4" x2="253.6" y2="874" stroke="#111" stroke-width="1.6" />
<line x1="282.4" y1="852.4" x2="282.4" y2="874" stroke="#111" stroke-width="1.6" />
<circle cx="159.5" cy="864" r="4.8" fill="none" stroke="#111" stroke-width="1.6"/>
<line x1="156.524" y1="861.024" x2="162.476" y2="866.976" stroke="#111" stroke-width="1.4400000000000002" />
<line x1="156.524" y1="866.976" x2="162.476" y2="861.024" stroke="#111" stroke-width="1.4400000000000002" />
<circle cx="185" cy="864" r="4.8" fill="none" stroke="#111" stroke-width="1.6"/>
<line x1="182.024" y1="861.024" x2="187.976" y2="866.976" stroke="#111" stroke-width="1.4400000000000002" />
<line x1="182.024" y1="866.976" x2="187.976" y2="861.024" stroke="#111" stroke-width="1.4400000000000002" />
<circle cx="212.4" cy="864" r="4.8" fill="none" stroke="#111" stroke-width="1.6"/>
<line x1="209.424" y1="861.024" x2="215.376" y2="866.976" stroke="#111" stroke-width="1.4400000000000002" />
<line x1="209.424" y1="866.976" x2="215.376" y2="861.024" stroke="#111" stroke-width="1.4400000000000002" />
<circle cx="240" cy="864" r="4.8" fill="none" stroke="#111" stroke-width="1.6"/>
<line x1="237.024" y1="861.024" x2="242.976" y2="866.976" stroke="#111" stroke-width="1.4400000000000002" />
<line x1="237.024" y1="866.976" x2="242.976" y2="861.024" stroke="#111" stroke-width="1.4400000000000002" />
<circle cx="267.5" cy="864" r="4.8" fill="none" stroke="#111" stroke-width="1.6"/>
<line x1="264.524" y1="861.024" x2="270.476" y2="866.976" stroke="#111" stroke-width="1.4400000000000002" />
<line x1="264.524" y1="866.976" x2="270.476" y2="861.024" stroke="#111" stroke-width="1.4400000000000002" />
<circle cx="295.6" cy="864" r="4.8" fill="none" stroke="#111" stroke-width="1.6"/>
<line x1="292.624" y1="861.024" x2="298.576" y2="866.976" stroke="#111" stroke-width="1.4400000000000002" />
<line x1="292.624" y1="866.976" x2="298.576" y2="861.024" stroke="#111" stroke-width="1.4400000000000002" />
<text id="t111" x="150.71" y="840.00" font-family="Liberation Sans" font-weight="normal" fill="#2a2a2a" font-size="8.33" textLength="17.56" lengthAdjust="spacingAndGlyphs">VCC</text>
<text id="t112" x="155.23" y="849.05" font-family="Liberation Sans" font-weight="normal" fill="#2a2a2a" font-size="7.53" textLength="8.60" lengthAdjust="spacingAndGlyphs">棕</text>
<text id="t113" x="176.24" y="840.00" font-family="Liberation Sans" font-weight="normal" fill="#2a2a2a" font-size="8.33" textLength="17.56" lengthAdjust="spacingAndGlyphs">VCC</text>
<text id="t114" x="180.73" y="849.05" font-family="Liberation Sans" font-weight="normal" fill="#2a2a2a" font-size="7.53" textLength="8.60" lengthAdjust="spacingAndGlyphs">棕</text>
<text id="t115" x="202.76" y="840.00" font-family="Liberation Sans" font-weight="normal" fill="#2a2a2a" font-size="8.33" textLength="18.65" lengthAdjust="spacingAndGlyphs">GND</text>
<text id="t116" x="208.04" y="849.47" font-family="Liberation Sans" font-weight="normal" fill="#2a2a2a" font-size="7.90" textLength="9.51" lengthAdjust="spacingAndGlyphs">黑</text>
<text id="t117" x="231.16" y="840.00" font-family="Liberation Sans" font-weight="normal" fill="#2a2a2a" font-size="8.33" textLength="17.68" lengthAdjust="spacingAndGlyphs">GND</text>
<text id="t118" x="235.65" y="849.47" font-family="Liberation Sans" font-weight="normal" fill="#2a2a2a" font-size="7.90" textLength="9.51" lengthAdjust="spacingAndGlyphs">黑</text>
<text id="t119" x="264.04" y="840.00" font-family="Liberation Sans" font-weight="normal" fill="#2a2a2a" font-size="8.33" textLength="6.94" lengthAdjust="spacingAndGlyphs">S</text>
<text id="t120" x="262.79" y="849.11" font-family="Liberation Sans" font-weight="normal" fill="#2a2a2a" font-size="8.20" textLength="10.86" lengthAdjust="spacingAndGlyphs">白</text>
<text id="t121" x="291.68" y="840.00" font-family="Liberation Sans" font-weight="normal" fill="#2a2a2a" font-size="8.33" textLength="7.71" lengthAdjust="spacingAndGlyphs">S</text>
<text id="t122" x="290.79" y="849.11" font-family="Liberation Sans" font-weight="normal" fill="#2a2a2a" font-size="8.20" textLength="10.86" lengthAdjust="spacingAndGlyphs">白</text>
<rect x="381.2" y="738" width="18.5" height="69.60000000000002" fill="#fff" stroke="#111" stroke-width="1.5" rx="1.5"/>
<rect x="385.6" y="807.6" width="10.0" height="3.0" fill="#fff" stroke="#111" stroke-width="1.3" rx="0"/>
<text x="0" y="0" transform="translate(390.40000000000003,769.5) rotate(90)" text-anchor="middle" dominant-baseline="central" font-family="Liberation Sans" font-size="8" font-weight="normal" fill="#333" textLength="23" lengthAdjust="spacingAndGlyphs">发射器</text>
<rect x="424.4" y="738" width="18.400000000000034" height="69.60000000000002" fill="#fff" stroke="#111" stroke-width="1.5" rx="1.5"/>
<rect x="429.6" y="807.6" width="10.0" height="3.0" fill="#fff" stroke="#111" stroke-width="1.3" rx="0"/>
<text x="0" y="0" transform="translate(434.40000000000003,769.5) rotate(90)" text-anchor="middle" dominant-baseline="central" font-family="Liberation Sans" font-size="8" font-weight="normal" fill="#333" textLength="23" lengthAdjust="spacingAndGlyphs">接收器</text>
<line x1="390.6" y1="810.6" x2="390.6" y2="887.5" stroke="#111" stroke-width="1.5" />
<line x1="434.6" y1="810.6" x2="434.6" y2="904" stroke="#111" stroke-width="1.5" />
<line x1="185" y1="887.5" x2="390.6" y2="887.5" stroke="#111" stroke-width="1.5" />
<line x1="159.5" y1="904" x2="434.6" y2="904" stroke="#111" stroke-width="1.5" />
<line x1="159.5" y1="874" x2="159.5" y2="904" stroke="#111" stroke-width="1.5" />
<line x1="185" y1="874" x2="185" y2="887.5" stroke="#111" stroke-width="1.5" />
<line x1="212.4" y1="874" x2="212.4" y2="904" stroke="#111" stroke-width="1.5" />
<line x1="241" y1="874" x2="241" y2="887.5" stroke="#111" stroke-width="1.5" />
<line x1="268" y1="874" x2="268" y2="904" stroke="#111" stroke-width="1.5" />
<polyline points="282,887.5 282,918.4 333.7,918.4 333.7,904" fill="none" stroke="#111" stroke-width="1.5" stroke-linejoin="miter"/>
<text id="t123" x="342.43" y="884.25" font-family="Liberation Sans" font-weight="normal" fill="#333" font-size="7.53" textLength="41.69" lengthAdjust="spacingAndGlyphs">发射器电缆</text>
<text id="t124" x="380.93" y="900.50" font-family="Liberation Sans" font-weight="normal" fill="#333" font-size="7.88" textLength="40.72" lengthAdjust="spacingAndGlyphs">接收器电缆</text>
<text id="t125" x="334.56" y="917.80" font-family="Liberation Sans" font-weight="normal" fill="#333" font-size="7.88" textLength="61.22" lengthAdjust="spacingAndGlyphs">蓝色CP（短接）</text>
<text id="t126" x="161.98" y="958.00" font-family="Liberation Sans" font-weight="normal" fill="#222" font-size="10.84" textLength="123.03" lengthAdjust="spacingAndGlyphs">Q型内置式控制器接线</text>
<line x1="156" y1="964" x2="298" y2="964" stroke="#2a72c0" stroke-width="2" />
<rect x="532.8" y="627.4" width="75.90000000000009" height="184.70000000000005" fill="none" stroke="#111" stroke-width="1.5" rx="0"/>
<rect x="565.5" y="622.6" width="15.0" height="4.7999999999999545" fill="#fff" stroke="#111" stroke-width="1.2" rx="0"/>
<polyline points="569.2,622.6 569.2,618.5 572.7,616.5 576.2,618.5 576.2,622.6" fill="none" stroke="#111" stroke-width="1.1" stroke-linejoin="miter"/>
<circle cx="572.7" cy="613.2" r="3.0" fill="#fff" stroke="#111" stroke-width="1.1"/>
<circle cx="572.7" cy="613.2" r="1.2" fill="none" stroke="#111" stroke-width="0.8"/>
<polyline points="514,944.6 514,638.4 582.8,638.4 585.8,650" fill="none" stroke="#111" stroke-width="1.3" stroke-linejoin="miter"/>
<line x1="554.2" y1="638.4" x2="557" y2="650" stroke="#111" stroke-width="1.1" />
<circle cx="557.2" cy="656" r="5.8" fill="#fff" stroke="#111" stroke-width="1.5"/>
<circle cx="555.2" cy="654.0" r="1.45" fill="#111"/>
<circle cx="555.2" cy="658.0" r="1.45" fill="#111"/>
<circle cx="559.2" cy="654.0" r="1.45" fill="#111"/>
<circle cx="559.2" cy="658.0" r="1.45" fill="#111"/>
<circle cx="584.6" cy="656" r="5.8" fill="#fff" stroke="#111" stroke-width="1.5"/>
<circle cx="582.6" cy="654.0" r="1.45" fill="#111"/>
<circle cx="582.6" cy="658.0" r="1.45" fill="#111"/>
<circle cx="586.6" cy="654.0" r="1.45" fill="#111"/>
<circle cx="586.6" cy="658.0" r="1.45" fill="#111"/>
<circle cx="556.8" cy="784.4" r="5.8" fill="#fff" stroke="#111" stroke-width="1.5"/>
<circle cx="554.8" cy="782.4" r="1.45" fill="#111"/>
<circle cx="554.8" cy="786.4" r="1.45" fill="#111"/>
<circle cx="558.8" cy="782.4" r="1.45" fill="#111"/>
<circle cx="558.8" cy="786.4" r="1.45" fill="#111"/>
<circle cx="584.6" cy="784.4" r="5.8" fill="#fff" stroke="#111" stroke-width="1.5"/>
<circle cx="582.6" cy="782.4" r="1.45" fill="#111"/>
<circle cx="582.6" cy="786.4" r="1.45" fill="#111"/>
<circle cx="586.6" cy="782.4" r="1.45" fill="#111"/>
<circle cx="586.6" cy="786.4" r="1.45" fill="#111"/>
<circle cx="571.6" cy="690" r="10.9" fill="none" stroke="#111" stroke-width="1.5"/>
<circle cx="571.9" cy="689.8" r="3.1" fill="none" stroke="#111" stroke-width="1.2"/>
<circle cx="571.9" cy="689.8" r="1.75" fill="none" stroke="#111" stroke-width="0.9"/>
<circle cx="571.6" cy="755.4" r="10.9" fill="none" stroke="#111" stroke-width="1.5"/>
<circle cx="571.9" cy="755.1999999999999" r="3.1" fill="none" stroke="#111" stroke-width="1.2"/>
<circle cx="571.9" cy="755.1999999999999" r="1.75" fill="none" stroke="#111" stroke-width="0.9"/>
<line x1="555.6" y1="790" x2="551.2" y2="802.5" stroke="#111" stroke-width="1.1" />
<line x1="585.6" y1="790" x2="583.5" y2="802.5" stroke="#111" stroke-width="1.1" />
<polyline points="583.5,802.5 521.8,802.5 521.8,881" fill="none" stroke="#111" stroke-width="1.3" stroke-linejoin="miter"/>
<rect x="543.7" y="812.1" width="13.5" height="3.3999999999999773" fill="#fff" rx="0"/>
<rect x="543.7" y="812.1" width="13.5" height="3.3999999999999773" fill="#fff" stroke="#111" stroke-width="1" rx="0"/>
<rect x="545" y="815.5" width="11" height="4.5" fill="#333" rx="0"/>
<line x1="545" y1="816.5" x2="556" y2="816.5" stroke="#888" stroke-width="0.5" />
<line x1="545" y1="818.5" x2="556" y2="818.5" stroke="#888" stroke-width="0.5" />
<rect x="586.5" y="812.6" width="3.5" height="3.8999999999999773" fill="#fff" stroke="#111" stroke-width="1" rx="0"/>
<rect x="587" y="816.5" width="2.5" height="1.7000000000000455" fill="#222" rx="0"/>
<line x1="521.8" y1="850.15" x2="559.5" y2="850.15" stroke="#111" stroke-width="1.3" />
<rect x="559.2" y="847.15" width="3.199999999999932" height="6.0" fill="#fff" stroke="#111" stroke-width="1.1" rx="0"/>
<rect x="562.4" y="845.3" width="46.700000000000045" height="9.700000000000045" fill="#fff" stroke="#111" stroke-width="1.6" rx="1"/>
<text x="0" y="0" transform="translate(593,850.15) rotate(180)" text-anchor="middle" dominant-baseline="central" font-family="Liberation Sans" font-size="6.5" font-weight="normal" fill="#444" textLength="18" lengthAdjust="spacingAndGlyphs">发射器</text>
<line x1="521.8" y1="881.0" x2="559.5" y2="881.0" stroke="#111" stroke-width="1.3" />
<rect x="559.2" y="878.0" width="3.199999999999932" height="6.0" fill="#fff" stroke="#111" stroke-width="1.1" rx="0"/>
<rect x="562.4" y="876" width="46.700000000000045" height="10" fill="#fff" stroke="#111" stroke-width="1.6" rx="1"/>
<text x="0" y="0" transform="translate(593,881.0) rotate(180)" text-anchor="middle" dominant-baseline="central" font-family="Liberation Sans" font-size="6.5" font-weight="normal" fill="#444" textLength="18" lengthAdjust="spacingAndGlyphs">接收器</text>
<line x1="514" y1="914.25" x2="559.5" y2="914.25" stroke="#111" stroke-width="1.3" />
<rect x="559.2" y="911.25" width="3.199999999999932" height="6.0" fill="#fff" stroke="#111" stroke-width="1.1" rx="0"/>
<rect x="562.4" y="909" width="46.700000000000045" height="10.5" fill="#fff" stroke="#111" stroke-width="1.6" rx="1"/>
<text x="0" y="0" transform="translate(593,914.25) rotate(180)" text-anchor="middle" dominant-baseline="central" font-family="Liberation Sans" font-size="6.5" font-weight="normal" fill="#444" textLength="18" lengthAdjust="spacingAndGlyphs">发射器</text>
<line x1="514" y1="944.75" x2="559.5" y2="944.75" stroke="#111" stroke-width="1.3" />
<rect x="559.2" y="941.75" width="3.199999999999932" height="6.0" fill="#fff" stroke="#111" stroke-width="1.1" rx="0"/>
<rect x="562.4" y="939.7" width="46.700000000000045" height="10.099999999999909" fill="#fff" stroke="#111" stroke-width="1.6" rx="1"/>
<text x="0" y="0" transform="translate(593,944.75) rotate(180)" text-anchor="middle" dominant-baseline="central" font-family="Liberation Sans" font-size="6.5" font-weight="normal" fill="#444" textLength="18" lengthAdjust="spacingAndGlyphs">接收器</text>
<text x="0" y="0" transform="translate(614.6,865) rotate(-90)" text-anchor="middle" dominant-baseline="central" font-family="Liberation Sans" font-size="6.5" font-weight="normal" fill="#555" textLength="21" lengthAdjust="spacingAndGlyphs">A套光栅</text>
<text x="0" y="0" transform="translate(614.6,929) rotate(-90)" text-anchor="middle" dominant-baseline="central" font-family="Liberation Sans" font-size="6.5" font-weight="normal" fill="#555" textLength="21" lengthAdjust="spacingAndGlyphs">B套光栅</text>
<text x="0" y="0" transform="translate(519,761.5) rotate(90)" text-anchor="middle" dominant-baseline="central" font-family="Liberation Sans" font-size="6.5" font-weight="normal" fill="#555" textLength="33" lengthAdjust="spacingAndGlyphs">四芯4芯电缆</text>
<text x="0" y="0" transform="translate(526.2,829) rotate(90)" text-anchor="middle" dominant-baseline="central" font-family="Liberation Sans" font-size="6.5" font-weight="normal" fill="#555" textLength="32" lengthAdjust="spacingAndGlyphs">四芯4芯电缆</text>
<rect x="627.5" y="711.9" width="85.79999999999995" height="170.10000000000002" fill="none" stroke="#111" stroke-width="1.6" rx="0"/>
<circle cx="644.8" cy="753.8" r="5.9" fill="#fff" stroke="#111" stroke-width="2.1"/>
<circle cx="644.8" cy="753.8" r="3.0" fill="none" stroke="#111" stroke-width="1.3"/>
<circle cx="644.8" cy="838.8" r="5.9" fill="#fff" stroke="#111" stroke-width="2.1"/>
<circle cx="644.8" cy="838.8" r="3.0" fill="none" stroke="#111" stroke-width="1.3"/>
<text id="t127" x="635.48" y="769.00" font-family="Liberation Sans" font-weight="normal" fill="#333" font-size="8.45" textLength="16.57" lengthAdjust="spacingAndGlyphs">1.5A</text>
<text id="t128" x="633.57" y="855.70" font-family="Liberation Sans" font-weight="normal" fill="#444" font-size="9.08" textLength="10.43" lengthAdjust="spacingAndGlyphs">5A</text>
<polyline points="645.5,747.2 683.2,703.3 782.2,703.3" fill="none" stroke="#111" stroke-width="1.3" stroke-linejoin="miter"/>
<line x1="683.2" y1="703.3" x2="683.2" y2="739" stroke="#111" stroke-width="1.2" />
<circle cx="683.3" cy="755.3" r="16.6" fill="#fff" stroke="#111" stroke-width="1.5"/>
<circle cx="683.3" cy="755.3" r="14.8" fill="none" stroke="#1f4a7c" stroke-width="2.4"/>
<circle cx="683.5" cy="837.6" r="16.6" fill="#fff" stroke="#111" stroke-width="1.5"/>
<circle cx="683.5" cy="837.6" r="14.8" fill="none" stroke="#1f4a7c" stroke-width="2.4"/>
<circle cx="683.2" cy="749.5" r="1.8" fill="#fff" stroke="#2f6db5" stroke-width="1.3"/>
<text id="t129" x="681.00" y="747.00" font-family="Liberation Sans" font-weight="normal" fill="#333" font-size="6.37" textLength="4.80" lengthAdjust="spacingAndGlyphs">2</text>
<circle cx="676.9" cy="759.5" r="1.8" fill="#fff" stroke="#2f6db5" stroke-width="1.3"/>
<text id="t130" x="673.74" y="756.05" font-family="Liberation Sans" font-weight="normal" fill="#333" font-size="7.08" textLength="4.52" lengthAdjust="spacingAndGlyphs">1</text>
<circle cx="688.9" cy="759.5" r="1.8" fill="#fff" stroke="#2f6db5" stroke-width="1.3"/>
<text id="t131" x="686.18" y="756.05" font-family="Liberation Sans" font-weight="normal" fill="#333" font-size="7.08" textLength="5.76" lengthAdjust="spacingAndGlyphs">3</text>
<polyline points="676.9,761.2 676.9,784.6 790.1,784.6" fill="none" stroke="#111" stroke-width="1.3" stroke-linejoin="miter"/>
<line x1="683.2" y1="751.2" x2="683.2" y2="784.6" stroke="#111" stroke-width="1.3" />
<line x1="688.9" y1="761.2" x2="688.9" y2="784.6" stroke="#111" stroke-width="1.3" />
<polyline points="856.3,767.5 806.7,767.5 790.1,784.6 808.2,801 832.3,801" fill="none" stroke="#111" stroke-width="1.3" stroke-linejoin="miter"/>
<line x1="790.1" y1="784.6" x2="856.3" y2="784.6" stroke="#111" stroke-width="1.3" />
<ellipse cx="848.1" cy="775.4" rx="4.6" ry="18.6" fill="none" stroke="#111" stroke-width="1.5"/>
<text id="t132" x="685.34" y="698.90" font-family="Liberation Sans" font-weight="normal" fill="#222" font-size="8.49" textLength="82.32" lengthAdjust="spacingAndGlyphs">电源接口及电源保险座</text>
<text id="t133" x="727.55" y="780.19" font-family="Liberation Sans" font-weight="normal" fill="#222" font-size="8.09" textLength="33.13" lengthAdjust="spacingAndGlyphs">3芯电缆</text>
<text id="t134" x="807.27" y="763.42" font-family="Liberation Sans" font-weight="normal" fill="#222" font-size="8.55" textLength="26.95" lengthAdjust="spacingAndGlyphs">棕色LA</text>
<text id="t135" x="804.53" y="780.90" font-family="Liberation Sans" font-weight="normal" fill="#222" font-size="8.49" textLength="27.16" lengthAdjust="spacingAndGlyphs">蓝色LN</text>
<text id="t136" x="807.96" y="796.81" font-family="Liberation Sans" font-weight="normal" fill="#222" font-size="8.55" textLength="27.12" lengthAdjust="spacingAndGlyphs">黄绿PE</text>
<text id="t137" x="858.18" y="778.64" font-family="Liberation Sans" font-weight="normal" fill="#111" font-size="9.02" textLength="33.17" lengthAdjust="spacingAndGlyphs">AC220V</text>
<circle cx="676.9" cy="836.4" r="1.8" fill="#fff" stroke="#2f6db5" stroke-width="1.3"/>
<text id="t138" x="674.65" y="832.95" font-family="Liberation Sans" font-weight="normal" fill="#333" font-size="6.38" textLength="3.60" lengthAdjust="spacingAndGlyphs">1</text>
<circle cx="689.9" cy="836.4" r="1.8" fill="#fff" stroke="#2f6db5" stroke-width="1.3"/>
<text id="t139" x="686.84" y="832.95" font-family="Liberation Sans" font-weight="normal" fill="#333" font-size="6.38" textLength="4.80" lengthAdjust="spacingAndGlyphs">2</text>
<polyline points="690,838.1 690,860.2 807.5,860.2 822.2,853.3 846.2,853.3" fill="none" stroke="#111" stroke-width="1.3" stroke-linejoin="miter"/>
<polyline points="676.9,838.1 676.9,866.7 807.5,866.7 822.2,873.1" fill="none" stroke="#111" stroke-width="1.3" stroke-linejoin="miter"/>
<line x1="822.2" y1="857.2" x2="846.2" y2="857.2" stroke="#111" stroke-width="1.3" />
<text id="t140" x="729.00" y="855.25" font-family="Liberation Sans" font-weight="normal" fill="#222" font-size="7.53" textLength="33.00" lengthAdjust="spacingAndGlyphs">2芯电缆</text>
<text id="t141" x="826.19" y="849.77" font-family="Liberation Sans" font-weight="normal" fill="#222" font-size="7.43" textLength="12.28" lengthAdjust="spacingAndGlyphs">棕T</text>
<text id="t142" x="825.04" y="870.50" font-family="Liberation Sans" font-weight="normal" fill="#222" font-size="7.88" textLength="15.24" lengthAdjust="spacingAndGlyphs">蓝K</text>
<text id="t143" x="844.42" y="865.74" font-family="Liberation Sans" font-weight="normal" fill="#222" font-size="8.21" textLength="54.68" lengthAdjust="spacingAndGlyphs">继电器输出触点</text>
<polyline points="646.5,845 658.8,897.8 667.9,844.4" fill="none" stroke="#111" stroke-width="1.2" stroke-linejoin="miter"/>
<line x1="658.8" y1="897.8" x2="794.2" y2="897.8" stroke="#111" stroke-width="1.3" />
<text id="t144" x="665.08" y="894.45" font-family="Liberation Sans" font-weight="normal" fill="#222" font-size="7.53" textLength="120.94" lengthAdjust="spacingAndGlyphs">继电器输出接口及控制回路保险座</text>
<text id="t145" x="630.79" y="962.66" font-family="Liberation Sans" font-weight="normal" fill="#222" font-size="11.34" textLength="118.72" lengthAdjust="spacingAndGlyphs">P型外置式控制器接线</text>
<line x1="624.7" y1="968.7" x2="761.7" y2="968.7" stroke="#2a72c0" stroke-width="2" /></svg></body></html>
